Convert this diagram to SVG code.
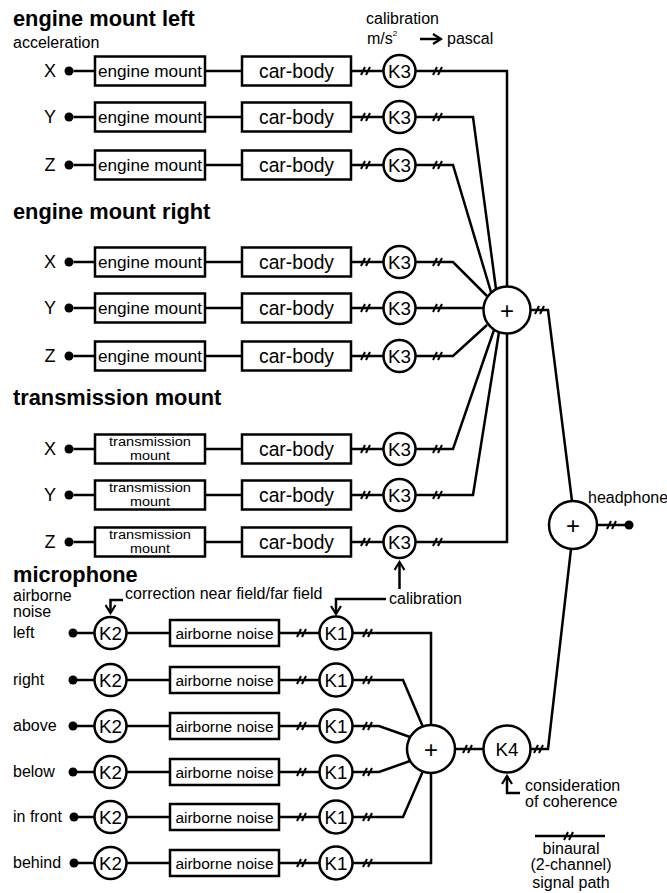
<svg xmlns="http://www.w3.org/2000/svg" xmlns:xlink="http://www.w3.org/1999/xlink" width="667" height="893" viewBox="0 0 667 893">
<style>
text{font-family:"Liberation Sans",Arial,sans-serif;fill:#000}
.t{font-weight:bold;font-size:21.8px}
.l{font-size:16px}
.ax{font-size:18px;text-anchor:middle}
.em{font-size:17.2px;text-anchor:middle}
.cb{font-size:19.3px;text-anchor:middle}
.tm{font-size:12.5px;text-anchor:middle}
.an{font-size:15.5px;text-anchor:middle}
.k{font-size:18.8px;text-anchor:middle}
.pl{font-size:24px;text-anchor:middle}
.c{text-anchor:middle}
rect,circle.n{fill:#fff;stroke:#000;stroke-width:2.5}
circle.d{fill:#000}
.w{fill:none;stroke:#000;stroke-width:2.5;stroke-linejoin:miter}
.s{fill:none;stroke:#000;stroke-width:2}
.a{fill:none;stroke:#000;stroke-width:2.5}
</style>
<defs>
<path id="sl" d="M-5,4 L-1,-4 M0,4 L4,-4"/>
<marker id="arr" viewBox="0 0 12 12" refX="10" refY="6" markerWidth="12" markerHeight="12" markerUnits="userSpaceOnUse" orient="auto">
<path d="M2,1 L10,6 L2,11" fill="none" stroke="#000" stroke-width="2.2"/>
</marker>
</defs>

<g id="headers">
<text class="t" x="13" y="26">engine mount left</text>
<text class="l" x="13" y="47.5">acceleration</text>
<text class="t" x="13" y="219">engine mount right</text>
<text class="t" x="13" y="405">transmission mount</text>
<text class="t" x="13" y="582">microphone</text>
<text class="l" x="13" y="601">airborne</text>
<text class="l" x="13" y="617">noise</text>
<text class="l" x="366" y="24">calibration</text>
<text class="l" x="367" y="43.5">m/s<tspan font-size="8" dy="-8">2</tspan></text>
<text class="l" x="447" y="43.5">pascal</text>
<text class="l" x="125" y="599">correction near field/far field</text>
<text class="l" x="389" y="604">calibration</text>
<text class="l" x="588" y="503">headphone</text>
<text class="l" x="525" y="791">consideration</text>
<text class="l" x="525" y="807">of coherence</text>
</g>

<g id="connectors">
<!-- structure-borne rows -->
<path class="w" d="M73.5,71 H95 M205,71 H242 M351,71 H383.5 M415.5,71 H507 V286.5"/>
<path class="w" d="M73.5,117 H95 M205,117 H242 M351,117 H383.5 M415.5,117 H473 L496,289"/>
<path class="w" d="M73.5,165 H95 M205,165 H242 M351,165 H383.5 M415.5,165 H453 L491,292"/>
<path class="w" d="M73.5,262 H95 M205,262 H242 M351,262 H383.5 M415.5,262 H453 L487,296"/>
<path class="w" d="M73.5,308 H95 M205,308 H242 M351,308 H383.5 M415.5,308 H483.6"/>
<path class="w" d="M73.5,356 H95 M205,356 H242 M351,356 H383.5 M415.5,356 H453 L487,325"/>
<path class="w" d="M73.5,449 H95 M205,449 H242 M351,449 H383.5 M415.5,449 H453 L494,330"/>
<path class="w" d="M73.5,495 H95 M205,495 H242 M351,495 H383.5 M415.5,495 H473 L499,332"/>
<path class="w" d="M73.5,542 H95 M205,542 H242 M351,542 H383.5 M415.5,542 H507 V333.5"/>
<!-- microphone rows -->
<path class="w" d="M73,633 H94.5 M126.5,633 H170 M279,633 H319.5 M352.5,633 H431 V725"/>
<path class="w" d="M73,680 H94.5 M126.5,680 H170 M279,680 H319.5 M352.5,680 H403 L423,727"/>
<path class="w" d="M73,726 H94.5 M126.5,726 H170 M279,726 H319.5 M352.5,726 H379 L410,737"/>
<path class="w" d="M73,772 H94.5 M126.5,772 H170 M279,772 H319.5 M352.5,772 H379 L410,761"/>
<path class="w" d="M73,817 H94.5 M126.5,817 H170 M279,817 H319.5 M352.5,817 H403 L423,771"/>
<path class="w" d="M73,863 H94.5 M126.5,863 H170 M279,863 H319.5 M352.5,863 H431 V773"/>
<!-- sums -->
<path class="w" d="M530.5,310 H548 L572,501"/>
<path class="w" d="M597,525 H629"/>
<path class="w" d="M455,749 H483.5"/>
<path class="w" d="M530.5,749 H548 L571,549"/>
<!-- legend -->
<path class="w" d="M535,836 H605"/>
<!-- arrows -->
<path class="a" d="M420,39 H441" marker-end="url(#arr)"/>
<path class="a" d="M399.5,589 V562" marker-end="url(#arr)"/>
<path class="a" d="M386,599 H336 V614" marker-end="url(#arr)"/>
<path class="a" d="M123,600 H110.5 V613" marker-end="url(#arr)"/>
<path class="a" d="M520,793 H507 V776" marker-end="url(#arr)"/>
<!-- binaural marks -->
<g class="s">
<use href="#sl" x="366" y="71"/><use href="#sl" x="438" y="71"/>
<use href="#sl" x="366" y="117"/><use href="#sl" x="438" y="117"/>
<use href="#sl" x="366" y="165"/><use href="#sl" x="438" y="165"/>
<use href="#sl" x="366" y="262"/><use href="#sl" x="438" y="262"/>
<use href="#sl" x="366" y="308"/><use href="#sl" x="438" y="308"/>
<use href="#sl" x="366" y="356"/><use href="#sl" x="438" y="356"/>
<use href="#sl" x="366" y="449"/><use href="#sl" x="438" y="449"/>
<use href="#sl" x="366" y="495"/><use href="#sl" x="438" y="495"/>
<use href="#sl" x="366" y="542"/><use href="#sl" x="438" y="542"/>
<use href="#sl" x="302" y="633"/><use href="#sl" x="368" y="633"/>
<use href="#sl" x="302" y="680"/><use href="#sl" x="368" y="680"/>
<use href="#sl" x="302" y="726"/><use href="#sl" x="368" y="726"/>
<use href="#sl" x="302" y="772"/><use href="#sl" x="368" y="772"/>
<use href="#sl" x="302" y="817"/><use href="#sl" x="368" y="817"/>
<use href="#sl" x="302" y="863"/><use href="#sl" x="368" y="863"/>
<use href="#sl" x="540" y="310"/>
<use href="#sl" x="612" y="525"/>
<use href="#sl" x="468" y="749"/>
<use href="#sl" x="539" y="749"/>
<use href="#sl" x="569" y="836"/>
</g>
</g>

<!-- engine mount left -->
<g id="eml-x"><text class="ax" x="50" y="77">X</text><circle class="d" cx="69" cy="71" r="4.5"/></g>
<g id="eml-x-mount"><rect x="95" y="56.5" width="110" height="29"/><text class="em" x="150" y="77">engine mount</text></g>
<g id="eml-x-body"><rect x="242" y="56.5" width="109" height="29"/><text class="cb" x="296.5" y="77.5">car-body</text></g>
<g id="eml-x-k3"><circle class="n" cx="399.5" cy="71" r="16"/><text class="k" x="399.5" y="77.8">K3</text></g>

<g id="eml-y"><text class="ax" x="50" y="123">Y</text><circle class="d" cx="69" cy="117" r="4.5"/></g>
<g id="eml-y-mount"><rect x="95" y="102.5" width="110" height="29"/><text class="em" x="150" y="123">engine mount</text></g>
<g id="eml-y-body"><rect x="242" y="102.5" width="109" height="29"/><text class="cb" x="296.5" y="123.5">car-body</text></g>
<g id="eml-y-k3"><circle class="n" cx="399.5" cy="117" r="16"/><text class="k" x="399.5" y="123.8">K3</text></g>

<g id="eml-z"><text class="ax" x="50" y="171">Z</text><circle class="d" cx="69" cy="165" r="4.5"/></g>
<g id="eml-z-mount"><rect x="95" y="150.5" width="110" height="29"/><text class="em" x="150" y="171">engine mount</text></g>
<g id="eml-z-body"><rect x="242" y="150.5" width="109" height="29"/><text class="cb" x="296.5" y="171.5">car-body</text></g>
<g id="eml-z-k3"><circle class="n" cx="399.5" cy="165" r="16"/><text class="k" x="399.5" y="171.8">K3</text></g>

<!-- engine mount right -->
<g id="emr-x"><text class="ax" x="50" y="268">X</text><circle class="d" cx="69" cy="262" r="4.5"/></g>
<g id="emr-x-mount"><rect x="95" y="247.5" width="110" height="29"/><text class="em" x="150" y="268">engine mount</text></g>
<g id="emr-x-body"><rect x="242" y="247.5" width="109" height="29"/><text class="cb" x="296.5" y="268.5">car-body</text></g>
<g id="emr-x-k3"><circle class="n" cx="399.5" cy="262" r="16"/><text class="k" x="399.5" y="268.8">K3</text></g>

<g id="emr-y"><text class="ax" x="50" y="314">Y</text><circle class="d" cx="69" cy="308" r="4.5"/></g>
<g id="emr-y-mount"><rect x="95" y="293.5" width="110" height="29"/><text class="em" x="150" y="314">engine mount</text></g>
<g id="emr-y-body"><rect x="242" y="293.5" width="109" height="29"/><text class="cb" x="296.5" y="314.5">car-body</text></g>
<g id="emr-y-k3"><circle class="n" cx="399.5" cy="308" r="16"/><text class="k" x="399.5" y="314.8">K3</text></g>

<g id="emr-z"><text class="ax" x="50" y="362">Z</text><circle class="d" cx="69" cy="356" r="4.5"/></g>
<g id="emr-z-mount"><rect x="95" y="341.5" width="110" height="29"/><text class="em" x="150" y="362">engine mount</text></g>
<g id="emr-z-body"><rect x="242" y="341.5" width="109" height="29"/><text class="cb" x="296.5" y="362.5">car-body</text></g>
<g id="emr-z-k3"><circle class="n" cx="399.5" cy="356" r="16"/><text class="k" x="399.5" y="362.8">K3</text></g>

<!-- transmission mount -->
<g id="tm-x"><text class="ax" x="50" y="455">X</text><circle class="d" cx="69" cy="449" r="4.5"/></g>
<g id="tm-x-mount"><rect x="95" y="434.5" width="110" height="29"/><text class="tm" x="150" y="446" textLength="82" lengthAdjust="spacingAndGlyphs">transmission</text><text class="tm" x="150" y="459.5" textLength="40" lengthAdjust="spacingAndGlyphs">mount</text></g>
<g id="tm-x-body"><rect x="242" y="434.5" width="109" height="29"/><text class="cb" x="296.5" y="455.5">car-body</text></g>
<g id="tm-x-k3"><circle class="n" cx="399.5" cy="449" r="16"/><text class="k" x="399.5" y="455.8">K3</text></g>

<g id="tm-y"><text class="ax" x="50" y="501">Y</text><circle class="d" cx="69" cy="495" r="4.5"/></g>
<g id="tm-y-mount"><rect x="95" y="480.5" width="110" height="29"/><text class="tm" x="150" y="492" textLength="82" lengthAdjust="spacingAndGlyphs">transmission</text><text class="tm" x="150" y="505.5" textLength="40" lengthAdjust="spacingAndGlyphs">mount</text></g>
<g id="tm-y-body"><rect x="242" y="480.5" width="109" height="29"/><text class="cb" x="296.5" y="501.5">car-body</text></g>
<g id="tm-y-k3"><circle class="n" cx="399.5" cy="495" r="16"/><text class="k" x="399.5" y="501.8">K3</text></g>

<g id="tm-z"><text class="ax" x="50" y="548">Z</text><circle class="d" cx="69" cy="542" r="4.5"/></g>
<g id="tm-z-mount"><rect x="95" y="527.5" width="110" height="29"/><text class="tm" x="150" y="539" textLength="82" lengthAdjust="spacingAndGlyphs">transmission</text><text class="tm" x="150" y="552.5" textLength="40" lengthAdjust="spacingAndGlyphs">mount</text></g>
<g id="tm-z-body"><rect x="242" y="527.5" width="109" height="29"/><text class="cb" x="296.5" y="548.5">car-body</text></g>
<g id="tm-z-k3"><circle class="n" cx="399.5" cy="542" r="16"/><text class="k" x="399.5" y="548.8">K3</text></g>

<!-- sums -->
<g id="sum-structure"><circle class="n" cx="507" cy="310" r="23.5"/><text class="pl" x="507" y="318.5">+</text></g>
<g id="sum-total"><circle class="n" cx="573" cy="525" r="24"/><text class="pl" x="573" y="533.5">+</text></g>
<g id="headphone-out"><circle class="d" cx="629" cy="525" r="4.5"/></g>

<!-- microphone rows -->
<g id="mic-left"><text class="l" x="13" y="638">left</text><circle class="d" cx="73" cy="633" r="4.5"/></g>
<g id="mic-left-k2"><circle class="n" cx="110.5" cy="633" r="16"/><text class="k" x="110.5" y="639.8">K2</text></g>
<g id="mic-left-an"><rect x="170" y="620" width="109" height="26"/><text class="an" x="224.5" y="638.5">airborne noise</text></g>
<g id="mic-left-k1"><circle class="n" cx="336" cy="633" r="16.5"/><text class="k" x="336" y="639.8">K1</text></g>

<g id="mic-right"><text class="l" x="13" y="685">right</text><circle class="d" cx="73" cy="680" r="4.5"/></g>
<g id="mic-right-k2"><circle class="n" cx="110.5" cy="680" r="16"/><text class="k" x="110.5" y="686.8">K2</text></g>
<g id="mic-right-an"><rect x="170" y="667" width="109" height="26"/><text class="an" x="224.5" y="685.5">airborne noise</text></g>
<g id="mic-right-k1"><circle class="n" cx="336" cy="680" r="16.5"/><text class="k" x="336" y="686.8">K1</text></g>

<g id="mic-above"><text class="l" x="13" y="731">above</text><circle class="d" cx="73" cy="726" r="4.5"/></g>
<g id="mic-above-k2"><circle class="n" cx="110.5" cy="726" r="16"/><text class="k" x="110.5" y="732.8">K2</text></g>
<g id="mic-above-an"><rect x="170" y="713" width="109" height="26"/><text class="an" x="224.5" y="731.5">airborne noise</text></g>
<g id="mic-above-k1"><circle class="n" cx="336" cy="726" r="16.5"/><text class="k" x="336" y="732.8">K1</text></g>

<g id="mic-below"><text class="l" x="13" y="777">below</text><circle class="d" cx="73" cy="772" r="4.5"/></g>
<g id="mic-below-k2"><circle class="n" cx="110.5" cy="772" r="16"/><text class="k" x="110.5" y="778.8">K2</text></g>
<g id="mic-below-an"><rect x="170" y="759" width="109" height="26"/><text class="an" x="224.5" y="777.5">airborne noise</text></g>
<g id="mic-below-k1"><circle class="n" cx="336" cy="772" r="16.5"/><text class="k" x="336" y="778.8">K1</text></g>

<g id="mic-front"><text class="l" x="13" y="822">in front</text><circle class="d" cx="74" cy="817" r="4.5"/></g>
<g id="mic-front-k2"><circle class="n" cx="110.5" cy="817" r="16"/><text class="k" x="110.5" y="823.8">K2</text></g>
<g id="mic-front-an"><rect x="170" y="804" width="109" height="26"/><text class="an" x="224.5" y="822.5">airborne noise</text></g>
<g id="mic-front-k1"><circle class="n" cx="336" cy="817" r="16.5"/><text class="k" x="336" y="823.8">K1</text></g>

<g id="mic-behind"><text class="l" x="13" y="868">behind</text><circle class="d" cx="74" cy="863" r="4.5"/></g>
<g id="mic-behind-k2"><circle class="n" cx="110.5" cy="863" r="16"/><text class="k" x="110.5" y="869.8">K2</text></g>
<g id="mic-behind-an"><rect x="170" y="850" width="109" height="26"/><text class="an" x="224.5" y="868.5">airborne noise</text></g>
<g id="mic-behind-k1"><circle class="n" cx="336" cy="863" r="16.5"/><text class="k" x="336" y="869.8">K1</text></g>

<g id="sum-mic"><circle class="n" cx="431" cy="749" r="24"/><text class="pl" x="431" y="757.5">+</text></g>
<g id="k4"><circle class="n" cx="507" cy="749" r="23.5"/><text class="k" x="507" y="755.5">K4</text></g>

<g id="legend">
<text class="l c" x="571" y="854">binaural</text>
<text class="l c" x="571" y="869.5">(2-channel)</text>
<text class="l c" x="571" y="887.5">signal path</text>
</g>
</svg>
